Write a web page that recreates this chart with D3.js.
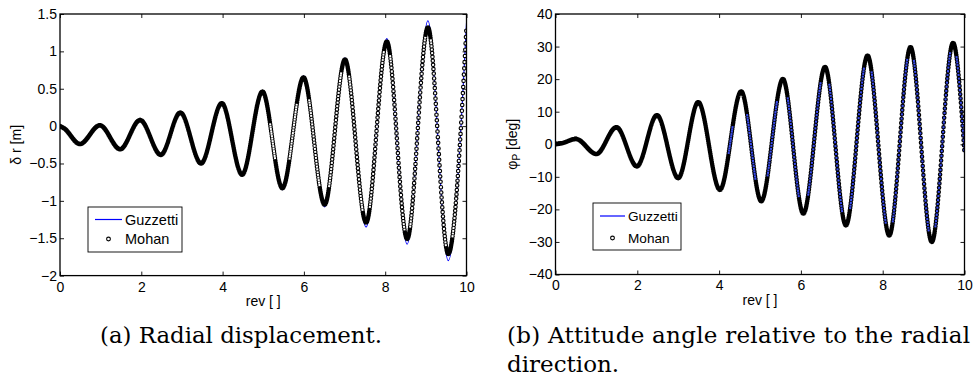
<!DOCTYPE html>
<html>
<head>
<meta charset="utf-8">
<script src="https://cdn.jsdelivr.net/npm/d3@7"></script>
<style>
  body { margin: 0; background: #fff; }
  svg { display: block; }
</style>
</head>
<body>
<div id="figure"></div>
<script>
/*    Data (turning points of each curve)    */
/******************************************************************/
// (a) radial displacement, delta r [m]
const revA      = [0, 0.10, 0.49, 0.98, 1.48, 1.97, 2.48, 2.96, 3.47, 3.98, 4.48, 4.98, 5.47, 5.99, 6.51, 7.01, 7.53, 8.04, 8.54, 9.05, 9.55, 10];
const guzzettiA = [0, -0.03, -0.24, 0.01, -0.31, 0.08, -0.39, 0.18, -0.50, 0.31, -0.66, 0.47, -0.85, 0.67, -1.08, 0.91, -1.35, 1.17, -1.58, 1.41, -1.80, 1.38];
const mohanA    = [0, -0.03, -0.24, 0.01, -0.31, 0.08, -0.385, 0.18, -0.50, 0.305, -0.65, 0.46, -0.83, 0.65, -1.05, 0.89, -1.29, 1.13, -1.51, 1.32, -1.71, 1.33];
const yTicksA   = [-2, -1.5, -1, -0.5, 0, 0.5, 1, 1.5];

// (b) attitude angle phi_P [deg]
const revB      = [0, 0.15, 0.50, 1.00, 1.49, 1.99, 2.48, 3.00, 3.49, 4.02, 4.54, 5.03, 5.56, 6.06, 6.59, 7.10, 7.63, 8.16, 8.68, 9.20, 9.72, 10];
const guzzettiB = [0, 0.3, 1.6, -3.0, 5.2, -6.8, 8.9, -10.4, 12.9, -14.0, 16.2, -17.5, 20.0, -21.3, 23.7, -24.9, 27.2, -28.0, 29.8, -30.0, 31.1, -2.7];
const mohanB    = [0, 0.3, 1.6, -3.0, 5.2, -6.8, 8.9, -10.4, 12.9, -14.0, 16.2, -17.5, 20.0, -21.3, 23.7, -24.9, 27.2, -28.0, 29.8, -30.0, 31.1, -2.7];
const yTicksB   = [-40, -30, -20, -10, 0, 10, 20, 30, 40];

const xTicks = [0, 2, 4, 6, 8, 10];
const seriesNames = ["Guzzetti", "Mohan"];

// marker sampling of the Mohan output (markers per rev)
const markerStep = 1 / 120;

/*    Containers    */
/********************/
const width = 973;
const height = 381;

const svg = d3.select("#figure")
  .append("svg")
    .attr("width", width)
    .attr("height", height)
    .attr("font-family", "'Liberation Sans', Arial, sans-serif");

const fmt = d => (d < 0 ? "\u2212" : "") + Math.abs(d);

const drawPanel = (p) => {
  const xScale = d3.scaleLinear().domain([0, 10]).range([p.left, p.right]);
  const yScale = d3.scaleLinear().domain(p.yDomain).range([p.bottom, p.top]);

  const panel = svg.append("g");

  const clipId = "clip-" + p.id;
  panel.append("clipPath").attr("id", clipId)
    .append("rect")
      .attr("x", p.left).attr("y", p.top)
      .attr("width", p.right - p.left).attr("height", p.bottom - p.top);

  const plot = panel.append("g").attr("clip-path", `url(#${clipId})`);

  const line = d3.line()
    .x(d => xScale(d[0]))
    .y(d => yScale(d[1]))
    .curve(d3.curveMonotoneX);

  // Guzzetti: solid blue line
  plot.append("path")
    .datum(d3.zip(p.rev, p.guzzetti))
      .attr("d", line)
      .attr("fill", "none")
      .attr("stroke", "#0000ff")
      .attr("stroke-width", 1.1);

  // Mohan: circle markers, drawn as round dots of a dashed path
  const mohanData = d3.zip(p.rev, p.mohan);
  const ringPath = plot.append("path")
    .datum(mohanData)
      .attr("d", line)
      .attr("fill", "none")
      .attr("stroke", "#000")
      .attr("stroke-width", 4.6)
      .attr("stroke-linecap", "round");

  // arc length where the path reaches a given x
  const node = ringPath.node();
  const total = node.getTotalLength();
  const table = [];
  for (let s = 0; s < total; s += 0.5) table.push([s, node.getPointAtLength(s).x]);
  table.push([total, node.getPointAtLength(total).x]);
  const bis = d3.bisector(d => d[1]).left;
  const lengthAt = (px) => {
    const i = Math.min(Math.max(bis(table, px), 1), table.length - 1);
    const a = table[i - 1], b = table[i];
    const f = b[1] === a[1] ? 0 : (px - a[1]) / (b[1] - a[1]);
    return a[0] + f * (b[0] - a[0]);
  };

  const marks = d3.range(0, 10 + 1e-9, markerStep).map(t => lengthAt(xScale(t)));

  const dots = [];
  for (let i = 0; i < marks.length - 1; i++) dots.push(0, Math.max(marks[i + 1] - marks[i], 0.001));
  dots.push(0, 100000);
  ringPath.attr("stroke-dasharray", dots.join(" "));

  // hollow centres where the markers do not overlap
  const half = 1.0;
  const centre = [0];
  let cursor = 0;
  marks.forEach((L, i) => {
    const prev = i > 0 ? L - marks[i - 1] : 99;
    const next = i < marks.length - 1 ? marks[i + 1] - L : 99;
    if (Math.min(prev, next) >= 2.3 && L - half >= cursor) {
      centre.push(L - half - cursor, 2 * half);
      cursor = L + half;
    }
  });
  centre.push(100000);

  plot.append("path")
    .datum(mohanData)
      .attr("d", line)
      .attr("fill", "none")
      .attr("stroke", p.centreColour)
      .attr("stroke-width", 2.0)
      .attr("stroke-linecap", "butt")
      .attr("stroke-dasharray", centre.join(" "));

  /*    Axes, ticks on all four sides    */
  const tick = 4;
  const clean = g => {
    g.select(".domain").remove();
    g.selectAll(".tick line").attr("stroke", "#000").attr("stroke-width", 0.9);
    g.selectAll("text").attr("fill", "#000").attr("font-size", 14)
      .attr("font-family", "'Liberation Sans', Arial, sans-serif");
  };

  panel.append("g")
    .attr("transform", `translate(0, ${p.bottom})`)
    .call(d3.axisBottom(xScale).tickValues(xTicks).tickFormat(fmt).tickSize(-tick).tickPadding(6))
    .call(clean);
  panel.append("g")
    .attr("transform", `translate(0, ${p.top})`)
    .call(d3.axisTop(xScale).tickValues(xTicks).tickFormat("").tickSize(-tick))
    .call(clean);
  panel.append("g")
    .attr("transform", `translate(${p.left}, 0)`)
    .call(d3.axisLeft(yScale).tickValues(p.yTicks).tickFormat(fmt).tickSize(-tick).tickPadding(3))
    .call(clean);
  panel.append("g")
    .attr("transform", `translate(${p.right}, 0)`)
    .call(d3.axisRight(yScale).tickValues(p.yTicks).tickFormat("").tickSize(-tick))
    .call(clean);

  panel.append("rect")
    .attr("x", p.left).attr("y", p.top)
    .attr("width", p.right - p.left).attr("height", p.bottom - p.top)
    .attr("fill", "none")
    .attr("stroke", "#000")
    .attr("stroke-width", 1.3);

  // axis titles
  panel.append("text")
    .attr("x", (p.left + p.right) / 2)
    .attr("y", p.bottom + 30.5)
    .attr("text-anchor", "middle")
    .attr("font-size", 14)
    .text("rev [ ]");

  const yLabel = panel.append("text")
    .attr("transform", `translate(${p.yLabelX}, ${(p.top + p.bottom) / 2}) rotate(-90)`)
    .attr("text-anchor", "middle")
    .attr("font-size", 14);
  p.yLabel(yLabel);

  /*    Legend    */
  const lg = p.legend;
  const legend = panel.append("g");
  legend.append("rect")
    .attr("x", lg.x).attr("y", lg.y).attr("width", lg.w).attr("height", lg.h)
    .attr("fill", "#fff").attr("stroke", "#000").attr("stroke-width", 0.9);
  legend.append("line")
    .attr("x1", lg.x + 7).attr("x2", lg.x + lg.lineEnd)
    .attr("y1", lg.y + lg.row1).attr("y2", lg.y + lg.row1)
    .attr("stroke", "#0000ff").attr("stroke-width", 1.2);
  legend.append("circle")
    .attr("cx", lg.x + (7 + lg.lineEnd) / 2).attr("cy", lg.y + lg.row2)
    .attr("r", 1.9)
    .attr("fill", "none").attr("stroke", "#000").attr("stroke-width", 1.1);
  legend.selectAll("text.name")
    .data(seriesNames)
    .join("text")
      .attr("class", "name")
      .attr("x", lg.x + lg.lineEnd + 3)
      .attr("y", (d, i) => lg.y + (i === 0 ? lg.row1 : lg.row2) + 0.36 * lg.font)
      .attr("font-size", lg.font)
      .text(d => d);
};

drawPanel({
  id: "a",
  left: 60, right: 466.5, top: 14, bottom: 275.6,
  yDomain: [-2, 1.5], yTicks: yTicksA,
  rev: revA, guzzetti: guzzettiA, mohan: mohanA,
  centreColour: "#fff",
  yLabelX: 20.5,
  yLabel: t => t.text("\u03b4 r [m]"),
  legend: {x: 88, y: 207, w: 94, h: 45, lineEnd: 34, row1: 12.5, row2: 32, font: 14.5}
});

drawPanel({
  id: "b",
  left: 555.5, right: 964.5, top: 14, bottom: 274.5,
  yDomain: [-40, 40], yTicks: yTicksB,
  rev: revB, guzzetti: guzzettiB, mohan: mohanB,
  centreColour: "#3a4df0",
  yLabelX: 517,
  yLabel: t => {
    t.append("tspan").text("\u03c6");
    t.append("tspan").attr("font-size", 10).attr("dy", 3).text("P");
    t.append("tspan").attr("dy", -3).text(" [deg]");
  },
  legend: {x: 593, y: 203, w: 88, h: 47, lineEnd: 32, row1: 13, row2: 35, font: 13.6}
});

/*    Sub-captions    */
const captionFont = "'DejaVu Serif', 'Liberation Serif', serif";

svg.append("text")
  .attr("x", 241).attr("y", 343)
  .attr("text-anchor", "middle")
  .attr("font-family", captionFont)
  .attr("font-size", 23)
  .attr("textLength", 282)
  .attr("lengthAdjust", "spacingAndGlyphs")
  .text("(a) Radial displacement.");

svg.append("text")
  .attr("x", 507).attr("y", 343)
  .attr("font-family", captionFont)
  .attr("font-size", 23)
  .attr("textLength", 463)
  .attr("lengthAdjust", "spacing")
  .text("(b) Attitude angle relative to the radial");

svg.append("text")
  .attr("x", 507).attr("y", 372)
  .attr("font-family", captionFont)
  .attr("font-size", 23)
  .text("direction.");
</script>
</body>
</html>
